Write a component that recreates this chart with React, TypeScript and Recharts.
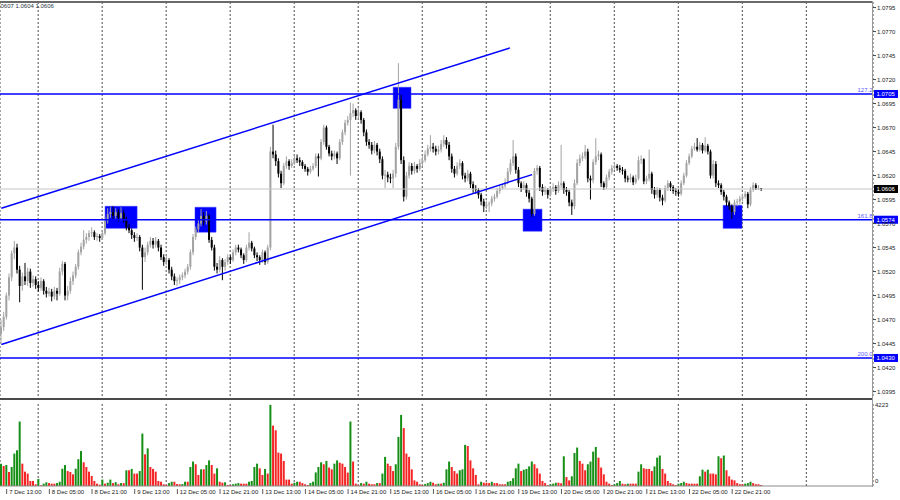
import React from 'react';
import {
  ComposedChart, Bar, Cell, XAxis, YAxis, CartesianGrid,
  ReferenceLine, ReferenceArea,
} from 'recharts';

// EURUSD H1 candles, quoted in points above 1.0000 (462 -> 1.0462)
const openPts = [
  455, 462, 473, 495, 514, 539, 545, 522, 505, 515, 510, 520, 508, 512, 506, 503, 510, 500, 497, 499,
  494, 500, 497, 520, 528, 495, 500, 510, 516, 525, 540, 546, 553, 556, 560, 561, 556, 557, 555, 560,
  573, 580, 582, 578, 582, 576, 581, 574, 566, 563, 558, 555, 556, 545, 535, 540, 548, 552, 548, 552,
  545, 535, 530, 532, 522, 515, 510, 511, 514, 516, 520, 525, 540, 556, 564, 570, 578, 572, 578, 553,
  545, 525, 522, 532, 525, 530, 535, 532, 540, 545, 543, 537, 532, 545, 550, 544, 537, 535, 532, 540,
  530, 545, 645, 642, 635, 622, 612, 630, 635, 630, 633, 638, 636, 634, 630, 627, 624, 627, 630, 640,
  638, 655, 670, 650, 643, 640, 643, 638, 655, 665, 675, 678, 685, 688, 682, 686, 678, 665, 655, 652,
  646, 652, 645, 637, 620, 621, 618, 617, 622, 650, 699, 636, 598, 620, 630, 625, 630, 627, 633, 636,
  642, 648, 650, 648, 645, 647, 653, 657, 652, 640, 627, 622, 630, 633, 620, 617, 622, 611, 606, 605,
  600, 593, 588, 590, 591, 596, 598, 604, 607, 609, 613, 624, 633, 640, 626, 612, 607, 610, 602, 596,
  580, 625, 628, 608, 603, 605, 600, 606, 608, 604, 610, 612, 605, 603, 592, 588, 612, 633, 638, 640,
  645, 617, 615, 634, 640, 642, 612, 608, 618, 624, 628, 630, 628, 626, 625, 617, 616, 618, 613, 617,
  636, 637, 614, 617, 622, 605, 600, 605, 597, 594, 607, 612, 608, 604, 603, 601, 612, 620, 633, 640,
  648, 650, 647, 652, 646, 651, 645, 620, 632, 612, 610, 603, 598, 592, 588, 582, 592, 593, 596, 598,
  601, 590, 605, 610, 607, 607,
];
const highPts = [
  470, 478, 498, 518, 542, 552, 549, 526, 519, 529, 524, 523, 516, 515, 510, 514, 512, 504, 503, 502,
  504, 503, 524, 531, 530, 505, 514, 520, 528, 543, 550, 563, 560, 563, 566, 563, 560, 559, 563, 577,
  586, 587, 588, 586, 585, 587, 584, 577, 570, 565, 561, 560, 558, 548, 545, 551, 556, 555, 556, 554,
  548, 538, 536, 534, 525, 518, 514, 517, 519, 523, 528, 543, 559, 567, 574, 585, 582, 583, 580, 556,
  548, 529, 536, 534, 533, 538, 537, 543, 548, 548, 545, 539, 548, 561, 552, 546, 540, 537, 543, 542,
  548, 650, 673, 646, 638, 625, 633, 640, 637, 637, 641, 642, 639, 636, 632, 629, 630, 633, 643, 643,
  658, 673, 672, 652, 646, 646, 645, 658, 668, 678, 682, 696, 695, 690, 690, 688, 680, 668, 658, 655,
  656, 654, 648, 640, 626, 624, 622, 626, 654, 737, 705, 640, 624, 634, 633, 634, 632, 637, 640, 646,
  652, 662, 654, 651, 651, 657, 662, 660, 655, 643, 630, 634, 637, 635, 623, 626, 624, 614, 610, 607,
  602, 596, 594, 593, 599, 601, 607, 610, 612, 617, 628, 637, 657, 643, 629, 614, 614, 612, 605, 598,
  628, 631, 630, 611, 609, 607, 609, 612, 610, 614, 652, 614, 608, 605, 595, 616, 637, 642, 644, 652,
  648, 620, 637, 659, 646, 644, 614, 621, 627, 631, 634, 632, 631, 629, 627, 620, 622, 620, 621, 640,
  641, 638, 620, 647, 624, 608, 608, 607, 600, 610, 615, 614, 610, 607, 606, 615, 623, 636, 643, 651,
  654, 659, 655, 654, 660, 653, 647, 636, 635, 615, 612, 605, 600, 594, 590, 595, 596, 599, 601, 604,
  603, 608, 613, 612, 610, 607,
];
const lowPts = [
  445, 458, 470, 490, 510, 533, 518, 488, 500, 506, 505, 503, 504, 502, 499, 500, 496, 493, 494, 489,
  491, 490, 495, 516, 490, 490, 497, 506, 513, 522, 537, 543, 549, 552, 556, 553, 552, 551, 553, 558,
  570, 576, 574, 575, 572, 573, 571, 563, 560, 554, 551, 552, 541, 501, 530, 537, 545, 544, 545, 541,
  532, 526, 527, 518, 511, 506, 505, 507, 511, 513, 517, 522, 537, 553, 561, 567, 568, 569, 550, 542,
  521, 518, 519, 511, 521, 527, 528, 530, 537, 540, 534, 528, 530, 542, 541, 534, 531, 527, 529, 527,
  528, 542, 638, 630, 618, 607, 610, 627, 626, 628, 631, 633, 630, 627, 624, 620, 622, 625, 628, 619,
  636, 652, 647, 640, 636, 637, 632, 636, 652, 662, 672, 620, 681, 678, 679, 674, 661, 651, 648, 642,
  643, 641, 633, 616, 607, 613, 612, 607, 618, 647, 632, 593, 595, 617, 621, 622, 623, 625, 630, 634,
  640, 645, 644, 641, 642, 644, 650, 648, 636, 623, 618, 620, 627, 616, 613, 614, 607, 602, 601, 596,
  589, 582, 585, 582, 588, 593, 596, 601, 605, 607, 611, 621, 630, 622, 608, 603, 605, 598, 592, 577,
  578, 621, 604, 599, 600, 596, 598, 603, 600, 602, 607, 601, 599, 588, 579, 585, 610, 630, 635, 637,
  613, 595, 612, 631, 636, 608, 605, 606, 615, 621, 626, 625, 623, 621, 613, 613, 613, 610, 611, 615,
  632, 611, 611, 614, 601, 596, 597, 593, 589, 592, 604, 604, 601, 599, 598, 599, 610, 618, 631, 638,
  646, 645, 645, 643, 644, 642, 617, 617, 608, 607, 600, 594, 588, 584, 574, 579, 588, 590, 593, 596,
  586, 588, 603, 605, 605, 604,
];
const closePts = [
  462, 473, 495, 514, 539, 545, 522, 505, 515, 510, 520, 508, 512, 506, 503, 510, 500, 497, 499, 494,
  500, 497, 520, 528, 495, 500, 510, 516, 525, 540, 546, 553, 556, 560, 561, 556, 557, 555, 560, 573,
  580, 582, 578, 582, 576, 581, 574, 566, 563, 558, 555, 556, 545, 535, 540, 548, 552, 548, 552, 545,
  535, 530, 532, 522, 515, 510, 511, 514, 516, 520, 525, 540, 556, 564, 570, 578, 572, 578, 553, 545,
  525, 522, 532, 525, 530, 535, 532, 540, 545, 543, 537, 532, 545, 550, 544, 537, 535, 532, 540, 530,
  545, 645, 642, 635, 622, 612, 630, 635, 630, 633, 638, 636, 634, 630, 627, 624, 627, 630, 640, 638,
  655, 670, 650, 643, 640, 643, 638, 655, 665, 675, 678, 685, 688, 682, 686, 678, 665, 655, 652, 646,
  652, 645, 637, 620, 621, 618, 617, 622, 650, 699, 636, 598, 620, 630, 625, 630, 627, 633, 636, 642,
  648, 650, 648, 645, 647, 653, 657, 652, 640, 627, 622, 630, 633, 620, 617, 622, 611, 606, 605, 600,
  593, 588, 590, 591, 596, 598, 604, 607, 609, 613, 624, 633, 640, 626, 612, 607, 610, 602, 596, 580,
  625, 628, 608, 603, 605, 600, 606, 608, 604, 610, 612, 605, 603, 592, 588, 612, 633, 638, 640, 645,
  617, 615, 634, 640, 642, 612, 608, 618, 624, 628, 630, 628, 626, 625, 617, 616, 618, 613, 617, 636,
  637, 614, 617, 622, 605, 600, 605, 597, 594, 607, 612, 608, 604, 603, 601, 612, 620, 633, 640, 648,
  650, 647, 652, 646, 651, 645, 620, 632, 612, 610, 603, 598, 592, 588, 582, 592, 593, 596, 598, 601,
  590, 605, 610, 607, 607, 606,
];
const tickVolume = [
  1150, 1030, 1080, 720, 980, 1670, 1840, 3320, 1150, 740, 640, 260, 260, 90, 360, 35, 120, 190, 150, 120,
  120, 150, 220, 890, 1080, 770, 720, 600, 890, 1380, 1800, 1220, 980, 740, 520, 260, 120, 70, 330, 120,
  170, 330, 150, 200, 90, 150, 150, 810, 810, 880, 640, 640, 770, 2700, 1630, 1940, 980, 880, 740, 260,
  220, 90, 50, 150, 220, 220, 100, 90, 100, 220, 220, 980, 1260, 1120, 570, 860, 860, 1080, 1320, 1080,
  640, 910, 220, 170, 190, 50, 50, 90, 120, 150, 120, 120, 120, 220, 260, 980, 1150, 910, 570, 880,
  640, 4180, 3110, 2870, 1720, 1670, 1290, 330, 330, 120, 170, 220, 220, 150, 90, 50, 150, 220, 700, 980,
  1220, 1120, 1290, 950, 860, 1150, 1320, 1200, 1150, 980, 690, 3320, 1260, 120, 50, 150, 120, 220, 120, 90,
  90, 150, 150, 640, 1500, 1150, 1030, 770, 1120, 2530, 3660, 2980, 1670, 1500, 860, 290, 220, 90, 50, 100,
  150, 220, 170, 90, 120, 120, 170, 860, 1260, 980, 770, 640, 810, 860, 2120, 2060, 1320, 910, 570, 90,
  220, 170, 170, 150, 220, 150, 150, 90, 90, 90, 220, 260, 400, 910, 1150, 770, 840, 880, 1010, 1260,
  1120, 910, 640, 260, 150, 50, 90, 120, 170, 170, 140, 1530, 460, 290, 500, 1700, 1980, 1290, 1150, 810,
  1120, 1260, 1770, 2010, 1460, 950, 600, 220, 120, 50, 90, 150, 260, 120, 90, 120, 120, 120, 120, 740,
  1120, 910, 880, 880, 770, 1010, 1460, 1570, 880, 640, 260, 150, 90, 50, 120, 150, 220, 150, 120, 120,
  120, 120, 500, 840, 740, 840, 640, 640, 600, 1530, 1430, 1570, 810, 500, 330, 290, 150, 90, 90, 120,
  150, 220, 150, 90, 90, 50,
];

const timeLabels = [
  '7 Dec 13:00', '8 Dec 05:00', '8 Dec 21:00', '9 Dec 13:00', '12 Dec 05:00', '12 Dec 21:00',
  '13 Dec 13:00', '14 Dec 05:00', '14 Dec 21:00', '15 Dec 13:00', '16 Dec 05:00', '16 Dec 21:00',
  '19 Dec 13:00', '20 Dec 05:00', '20 Dec 21:00', '21 Dec 13:00', '22 Dec 05:00', '22 Dec 21:00',
];
const priceTicks = [
  1.0795, 1.077, 1.0745, 1.072, 1.0695, 1.067, 1.0645, 1.062, 1.0595,
  1.057, 1.0545, 1.052, 1.0495, 1.047, 1.0445, 1.042, 1.0395,
];

// fibo levels drawn across the chart
const levelPrices = [1.0705, 1.0574, 1.043];
const levelNames = ['127.2', '161.8', '200.0'];
const lastPrice = 1.0606;

// ascending channel, [bar, points]
const channelTop = [[0, 586], [190.7, 753]];
const channelBottom = [[0, 444], [199, 621]];

// highlighted zones: bar range and price range in points
const zoneFrom = [38.9, 72.6, 146.9, 195.6, 270.6];
const zoneTo = [50.9, 80.5, 153.6, 202.7, 277.7];
const zoneTop = [588, 587, 712, 585, 589];
const zoneBottom = [565, 561, 690, 562, 565];

const FONT = '"Liberation Sans", Arial, sans-serif';
const X_DOMAIN: [number, number] = [-0.5, 326.8];
const VOL_MAX = 4223;

const toPrice = (pts: number) => Math.round((1 + pts / 10000) * 1e5) / 1e5;

const rows = closePts.map((c, i) => ({
  i,
  o: toPrice(openPts[i]),
  h: toPrice(highPts[i]),
  l: toPrice(lowPts[i]),
  c: toPrice(c),
  range: [toPrice(lowPts[i]), toPrice(highPts[i])],
  v: tickVolume[i],
}));

// vertical grid every 24 bars, time labels every 16 bars
const gridBars = Array.from({ length: 13 }, (_, k) => 13.8 + 24 * k);
const labelBars = timeLabels.map((_, k) => 2 + 16 * k);

function Candle(props: any) {
  const { x, y, width, height, payload } = props;
  const { o, c, h, l } = payload;
  const cx = x + width / 2;
  const span = h - l;
  const toY = (v: number) => (span > 0 ? y + ((h - v) / span) * height : y);
  const up = c >= o;
  const color = up ? '#a3a3a3' : '#000000';
  const top = toY(Math.max(o, c));
  const bottom = toY(Math.min(o, c));
  return (
    <g>
      <line x1={cx} x2={cx} y1={y} y2={y + height} stroke={color} strokeWidth={1} />
      <rect x={cx - 1} y={top} width={2} height={Math.max(bottom - top, 0.8)} fill={color} />
    </g>
  );
}

function AxisTag(props: any) {
  const { viewBox, text, bg, ratio } = props;
  const x = viewBox.x + viewBox.width;
  const y = viewBox.y;
  return (
    <g>
      {ratio && (
        <text x={x - 0.5} y={y - 1.5} textAnchor="end" fontSize={6} fill="#5a5aff" fontFamily={FONT}>
          {ratio}
        </text>
      )}
      <rect x={x + 1} y={y - 4} width={24} height={8} fill={bg} />
      <text x={x + 3.5} y={y} dy="0.35em" fontSize={6} fill="#ffffff" fontFamily={FONT}>
        {text}
      </text>
    </g>
  );
}

function TimeTick(props: any) {
  const { x, y, payload } = props;
  const k = labelBars.indexOf(payload.value);
  return (
    <g>
      <line x1={x} x2={x} y1={y + 3} y2={y + 8} stroke="#333" strokeWidth={0.8} />
      <text x={x + 2.5} y={y + 8} fontSize={6} fill="#1a1a1a" fontFamily={FONT}>
        {timeLabels[k]}
      </text>
    </g>
  );
}

function VolTick(props: any) {
  const { x, y, payload } = props;
  const isTop = payload.value > 0;
  return (
    <text x={x + 2} y={isTop ? y + 1 : y - 5} dy="0.35em" fontSize={6} fill="#1a1a1a" fontFamily={FONT}>
      {payload.value}
    </text>
  );
}

const volColor = (i: number) => (i > 0 && tickVolume[i] <= tickVolume[i - 1] ? '#f52424' : '#168f16');

export default function App() {
  return (
    <div style={{ position: 'absolute', left: 0, top: 0, width: 900, height: 500, background: '#fff' }}>
      <div style={{ position: 'absolute', left: 0, top: 0 }}>
        <ComposedChart width={900} height={400} data={rows} margin={{ top: 2, right: 0, bottom: 2, left: 0 }}>
          <XAxis type="number" dataKey="i" domain={X_DOMAIN} allowDataOverflow hide ticks={gridBars} />
          <YAxis
            orientation="right"
            width={27}
            domain={[1.03883, 1.08008]}
            allowDataOverflow
            ticks={priceTicks}
            interval={0}
            axisLine={false}
            tickSize={3}
            tickMargin={1}
            tickLine={{ stroke: '#444' }}
            tick={{ fontSize: 6, fill: '#1a1a1a', fontFamily: FONT }}
            tickFormatter={(v: number) => v.toFixed(4)}
          />
          <CartesianGrid horizontal={false} stroke="#4a4a4a" strokeDasharray="2 2" />
          {zoneFrom.map((x1, k) => (
            <ReferenceArea
              key={`zone-${k}`}
              x1={x1}
              x2={zoneTo[k]}
              y1={toPrice(zoneBottom[k])}
              y2={toPrice(zoneTop[k])}
              fill="#0000ff"
              fillOpacity={1}
              stroke="#3c3cff"
              strokeWidth={0.5}
            />
          ))}
          <Bar dataKey="range" barSize={2} isAnimationActive={false} shape={(p: any) => <Candle {...p} />} />
          <ReferenceLine
            y={lastPrice}
            stroke="#c4c4c4"
            strokeWidth={1}
            label={<AxisTag text={lastPrice.toFixed(4)} bg="#000000" />}
          />
          {levelPrices.map((p, k) => (
            <ReferenceLine
              key={`lvl-${k}`}
              y={p}
              stroke="#0000ff"
              strokeWidth={1.5}
              label={<AxisTag text={p.toFixed(4)} bg="#0000ff" ratio={levelNames[k]} />}
            />
          ))}
          <ReferenceLine
            segment={channelTop.map(([b, pts]) => ({ x: b, y: toPrice(pts) }))}
            stroke="#0000ff"
            strokeWidth={1.5}
          />
          <ReferenceLine
            segment={channelBottom.map(([b, pts]) => ({ x: b, y: toPrice(pts) }))}
            stroke="#0000ff"
            strokeWidth={1.5}
          />
        </ComposedChart>
      </div>

      <div style={{ position: 'absolute', left: 0, top: 400 }}>
        <ComposedChart width={900} height={100} data={rows} margin={{ top: 4, right: 0, bottom: 0, left: 0 }}>
          <XAxis xAxisId="grid" type="number" dataKey="i" domain={X_DOMAIN} allowDataOverflow hide ticks={gridBars} />
          <XAxis
            type="number"
            dataKey="i"
            domain={X_DOMAIN}
            allowDataOverflow
            ticks={labelBars}
            interval={0}
            height={14}
            tickSize={0}
            tickMargin={0}
            axisLine={{ stroke: '#8a8a8a' }}
            tickLine={false}
            tick={(p: any) => <TimeTick {...p} />}
          />
          <YAxis
            orientation="right"
            width={27}
            domain={[0, VOL_MAX]}
            allowDataOverflow
            ticks={[0, VOL_MAX]}
            interval={0}
            axisLine={false}
            tickLine={false}
            tickSize={0}
            tickMargin={0}
            tick={(p: any) => <VolTick {...p} />}
          />
          <CartesianGrid xAxisId="grid" horizontal={false} stroke="#4a4a4a" strokeDasharray="2 2" />
          <Bar dataKey="v" barSize={2} isAnimationActive={false}>
            {rows.map((_, i) => (
              <Cell key={`v-${i}`} fill={volColor(i)} />
            ))}
          </Bar>
        </ComposedChart>
      </div>

      {/* window frame: top edge, panel separator, price scale edge */}
      <div style={{ position: 'absolute', left: 0, top: 1, width: 873, height: 1.5, background: '#6a6a6a' }} />
      <div style={{ position: 'absolute', left: 0, top: 397.5, width: 873, height: 2.5, background: '#4a4a4a' }} />
      <div style={{ position: 'absolute', left: 872, top: 1, width: 1.3, height: 486, background: '#9a9a9a' }} />

      <svg style={{ position: 'absolute', left: 0, top: 0 }} width={120} height={12}>
        <text x={0.5} y={8.3} fontSize={6} fill="#2a3440" fontFamily={FONT}>
          0607 1.0604 1.0606
        </text>
      </svg>
    </div>
  );
}
